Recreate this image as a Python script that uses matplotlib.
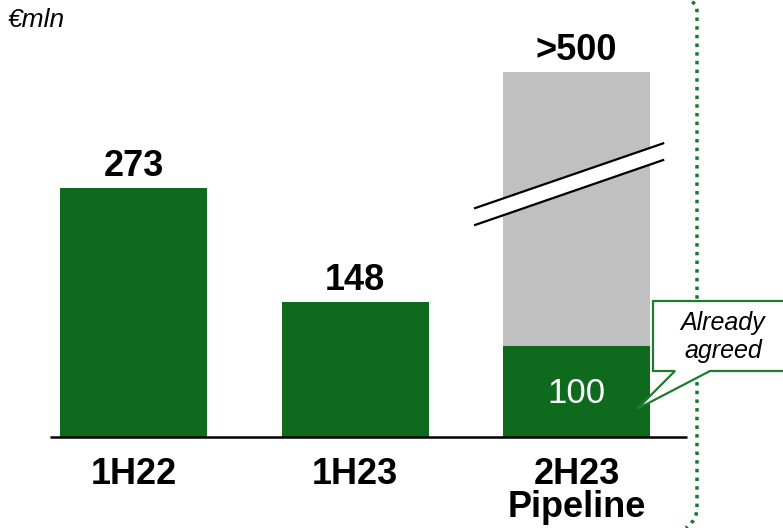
import matplotlib
matplotlib.use("Agg")
import matplotlib.pyplot as plt
from matplotlib.patches import Polygon
from matplotlib.path import Path
from matplotlib.patches import PathPatch

plt.rcParams["font.family"] = ["Liberation Sans", "DejaVu Sans"]

# values (EUR mln)
categories = ["1H22", "1H23", "2H23\nPipeline"]
achieved = [273, 148, 100]
value_labels = ["273", "148", ">500"]
pipeline_total = 500
pipeline_shown = 400  # axis is broken above this height

GREEN = "#0E6A1D"
GREY = "#C0C0C0"

W, H = 783, 528
fig = plt.figure(figsize=(W / 100, H / 100), dpi=100)

# main bar axes: x in category units, y in EUR mln
ax = fig.add_axes([0, 0, 1, 1])
ax.set_xlim(-0.603, 2.932)
ax.set_ylim(-99.8, 479.2)
ax.axis("off")

xs = range(len(categories))
bw = 0.664
ax.bar(2, min(pipeline_total, pipeline_shown), width=bw, color=GREY, zorder=1)
ax.bar(xs, achieved, width=bw, color=GREEN, zorder=2)
ax.plot([-0.378, 2.5], [0, 0], color="black", lw=1.8, zorder=3, solid_capstyle="butt")

tops = [achieved[0], achieved[1], min(pipeline_total, pipeline_shown)]
for x, top, lab in zip(xs, tops, value_labels):
    ax.text(x, top + 4.5, lab, ha="center", va="bottom", fontsize=26,
            fontweight="bold")
ax.text(2, achieved[2] / 2 - 2, str(achieved[2]), ha="center", va="center",
        fontsize=25, color="white", zorder=4)

for x, cat in zip(xs, categories):
    ax.text(x, -22, cat, ha="center", va="top", fontsize=26,
            fontweight="bold", linespacing=0.92)

# break marks on the pipeline bar
x0, x1 = 2 - 0.458, 2 + 0.391
upper = (251, 322)
lower = (232.5, 303.7)
ax.add_patch(Polygon([(x0, upper[0]), (x1, upper[1]), (x1, lower[1]), (x0, lower[0])],
                     closed=True, facecolor="white", edgecolor="none", zorder=3))
ax.plot([x0, x1], upper, color="black", lw=1.6, zorder=4)
ax.plot([x0, x1], lower, color="black", lw=1.6, zorder=4)

# overlay in pixel units for callout and separator
ov = fig.add_axes([0, 0, 1, 1], zorder=5)
ov.set_xlim(0, W)
ov.set_ylim(H, 0)
ov.axis("off")
ov.patch.set_alpha(0)

callout = [(653, 301), (785, 301), (785, 371), (710, 371), (637, 409),
           (675, 371), (653, 371)]
ov.add_patch(Polygon(callout, closed=True, facecolor="white",
                     edgecolor="#1E7A2E", lw=1.6, zorder=6))
ov.text(723, 337, "Already\nagreed", ha="center", va="center", fontsize=18,
        fontstyle="italic", linespacing=1.2, zorder=7)

verts = [(692, 2), (697, 4), (697, 12), (697, 505), (697, 518), (692, 522),
         (686, 528)]
codes = [Path.MOVETO, Path.CURVE3, Path.CURVE3, Path.LINETO, Path.CURVE3,
         Path.CURVE3, Path.LINETO]
ov.add_patch(PathPatch(Path(verts, codes), facecolor="none", edgecolor="#137A2A",
                       lw=2.5, linestyle=(0, (1, 1.5)), zorder=4))

ov.text(8, 20, "€mln", ha="left", va="center", fontsize=19, fontstyle="italic")

fig.savefig("out.png", dpi=100)
